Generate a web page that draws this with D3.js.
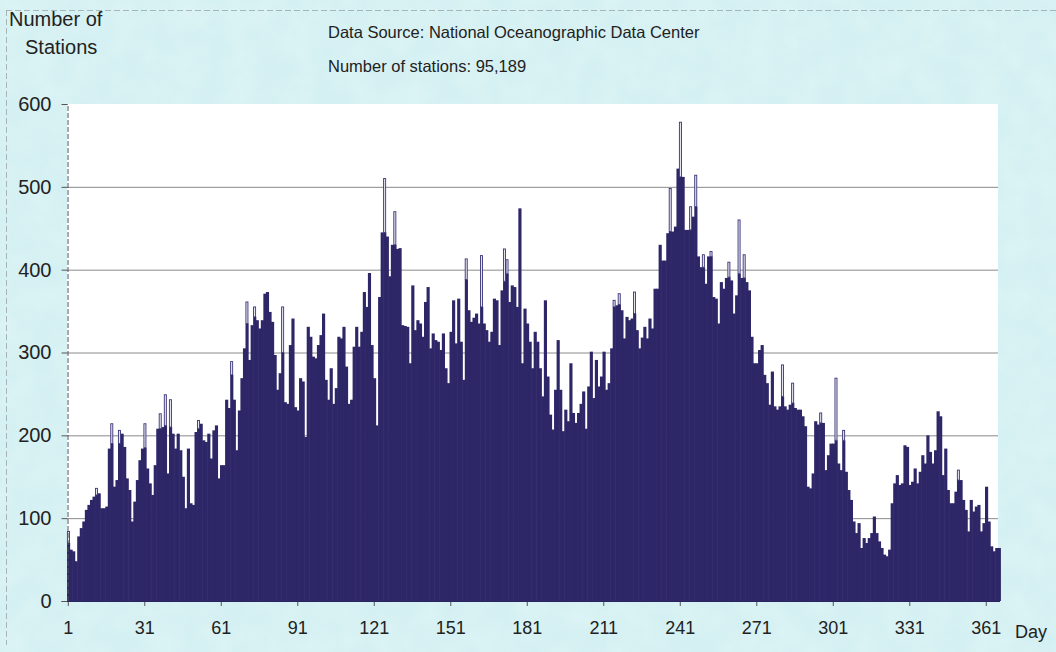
<!DOCTYPE html>
<html>
<head>
<meta charset="utf-8">
<script src="https://cdn.jsdelivr.net/npm/d3@7/dist/d3.min.js"></script>
<style>
  html, body { margin: 0; padding: 0; background: #d3eff1; }
  svg { display: block; }
  text { font-family: "Liberation Sans", Arial, sans-serif; fill: #222; }
</style>
</head>
<body>
<svg id="chart" width="1056" height="652"></svg>
<script>
// ---- data ----
const stations = [
  84,62,60,48,78,88,96,110,116,122,126,136,130,112,112,114,184,214,138,146,
  206,202,186,148,134,96,120,146,170,184,214,160,142,128,164,208,226,210,249,154,
  243,202,184,202,182,150,112,184,118,116,204,218,214,194,192,202,172,206,212,148,
  164,164,243,233,289,243,182,230,269,305,361,291,333,355,339,329,339,371,373,349,
  337,297,255,275,355,240,238,309,341,234,230,269,265,198,331,319,295,293,309,321,
  347,267,243,281,238,257,319,317,331,283,238,243,307,331,307,325,373,355,396,309,
  269,212,367,445,510,440,392,430,470,425,426,333,332,331,287,381,327,339,335,319,
  361,379,305,323,315,313,303,323,281,263,325,363,311,365,313,267,413,351,337,342,
  347,335,417,335,327,313,325,365,363,309,375,425,412,361,381,379,355,474,287,353,
  335,313,281,325,313,281,247,363,271,225,207,255,315,255,205,231,217,287,227,215,
  227,238,253,208,259,301,245,291,259,271,301,255,263,305,363,357,371,351,317,343,
  339,341,373,327,305,318,331,317,341,329,377,377,430,411,411,444,498,446,452,522,
  578,512,448,448,476,464,514,416,403,418,383,416,422,367,365,335,385,377,390,409,
  387,347,369,460,390,418,385,375,319,287,287,303,309,273,263,237,277,235,231,235,
  285,235,231,237,263,233,231,231,223,211,138,136,154,217,213,227,215,158,176,190,
  190,269,166,158,206,156,134,122,96,82,94,64,76,70,76,82,102,82,72,64,
  56,54,62,118,142,152,140,142,188,186,140,144,160,142,156,176,166,200,180,166,
  182,229,223,152,184,134,118,118,132,158,146,122,110,84,122,108,114,116,84,94,
  138,96,66,60,64,64
];
const days = stations.map((_, i) => i + 1);
// days whose upper part is drawn as an open (outlined) segment, and where that segment starts
const outlinedDays = [1,12,18,21,31,37,39,41,52,65,71,74,85,125,129,157,163,172,173,215,217,223,237,241,245,247,250,253,260,264,266,281,285,296,302,305,350];
const solidTops    = [70,128,190,190,185,208,212,210,208,273,335,343,300,445,430,388,355,386,395,355,358,347,446,512,448,476,403,416,391,395,390,247,239,215,194,194,146];
const xTickDays = [1,31,61,91,121,151,181,211,241,271,301,331,361];
const yTicks = [0,100,200,300,400,500,600];
const yGrid = [100,200,300,400,500];

// ---- drawing ----
const svg = d3.select("#chart");
const W = 1056, H = 652;

// textured background
const defs = svg.append("defs");
const f = defs.append("filter").attr("id","paper").attr("x",0).attr("y",0).attr("width","100%").attr("height","100%");
f.append("feTurbulence").attr("type","fractalNoise").attr("baseFrequency","0.035").attr("numOctaves",3).attr("seed",4).attr("result","n");
f.append("feColorMatrix").attr("in","n").attr("type","matrix")
 .attr("values","0 0 0 0 0.78  0 0 0 0 0.93  0 0 0 0 0.95  0 0 0 -1.2 0.9");
svg.append("rect").attr("width",W).attr("height",H).attr("fill","#d4f0f2");
svg.append("rect").attr("width",W).attr("height",H).attr("filter","url(#paper)").attr("opacity",0.6);

// faint dashed frame of the scan
svg.append("line").attr("x1",6).attr("x2",1056).attr("y1",10.5).attr("y2",10.5)
  .attr("stroke","#9aa6a8").attr("stroke-dasharray","6,3").attr("stroke-width",0.8);
svg.append("line").attr("x1",6.5).attr("x2",6.5).attr("y1",10).attr("y2",645)
  .attr("stroke","#9aa6a8").attr("stroke-dasharray","6,3").attr("stroke-width",0.8);

const x = d3.scaleBand().domain(days).range([67, 1000.3]).padding(0);
const y = d3.scaleLinear().domain([0, 600]).range([601, 104]);

// plot area
svg.append("rect").attr("x",67).attr("y",104).attr("width",931).attr("height",497).attr("fill","#ffffff");

// gridlines
svg.append("g").selectAll("line").data(yGrid).join("line")
  .attr("x1",67).attr("x2",998).attr("y1",d=>y(d)+0.5).attr("y2",d=>y(d)+0.5)
  .attr("stroke","#8a8a8a").attr("stroke-width",1);

// bars
const barColor = "#2d2667";
const bw = x.bandwidth();
svg.append("g").selectAll("rect").data(days).join("rect")
  .attr("x", d => x(d))
  .attr("width", bw + 0.6)
  .attr("y", d => {
    const k = outlinedDays.indexOf(d);
    return y(k >= 0 ? solidTops[k] : stations[d-1]);
  })
  .attr("height", d => {
    const k = outlinedDays.indexOf(d);
    return y(0) - y(k >= 0 ? solidTops[k] : stations[d-1]);
  })
  .attr("fill", barColor);

// outlined upper parts
svg.append("g").selectAll("rect").data(outlinedDays).join("rect")
  .attr("x", d => x(d) + 0.4)
  .attr("width", bw - 0.5)
  .attr("y", (d) => y(stations[d-1]))
  .attr("height", (d, i) => y(solidTops[i]) - y(stations[d-1]))
  .attr("fill", "#e4e4f0")
  .attr("stroke", "#3a3578").attr("stroke-width", 0.9);

// y axis
const yAxis = d3.axisLeft(y).tickValues(yTicks).tickSize(6).tickPadding(10).tickFormat(d3.format("d"));
const ya = svg.append("g").attr("transform","translate(67.5,0)").call(yAxis);
ya.select(".domain").attr("stroke","#555").attr("stroke-dasharray","5,2");
ya.selectAll(".tick line").attr("stroke","#555");
ya.selectAll(".tick text").attr("font-size",20).attr("fill","#222")
  .attr("font-family","Liberation Sans, Arial, sans-serif");

// x axis
const xAxis = d3.axisBottom(x).tickValues(xTickDays).tickSize(5).tickPadding(15);
const xa = svg.append("g").attr("transform","translate(0,601)").call(xAxis);
xa.select(".domain").remove();
xa.selectAll(".tick line").attr("stroke","#555");
xa.selectAll(".tick text").attr("font-size",18).attr("fill","#222")
  .attr("font-family","Liberation Sans, Arial, sans-serif");
svg.append("line").attr("x1",67).attr("x2",1000).attr("y1",601.5).attr("y2",601.5).attr("stroke","#2a2560");

// texts
svg.append("text").attr("x",1015).attr("y",638).attr("font-size",18).text("Day");
svg.append("text").attr("x",9).attr("y",26).attr("font-size",20).text("Number of");
svg.append("text").attr("x",25).attr("y",54).attr("font-size",20).text("Stations");
svg.append("text").attr("x",328).attr("y",38).attr("font-size",16.5).text("Data Source: National Oceanographic Data Center");
svg.append("text").attr("x",328).attr("y",72).attr("font-size",16.5).text("Number of stations: 95,189");
</script>
</body>
</html>
